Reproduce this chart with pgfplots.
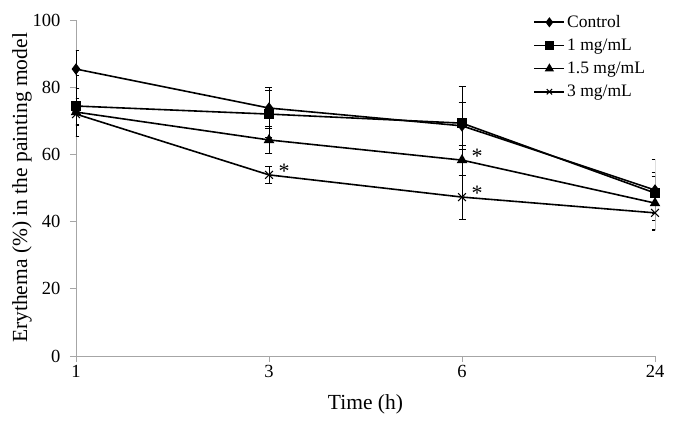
\documentclass[border=0pt]{standalone}
\usepackage{fontspec}
\setmainfont{Liberation Serif}
\usepackage{pgfplots}
\pgfplotsset{compat=1.18}
\begin{document}
\begin{tikzpicture}
\begin{axis}[
  scale only axis, width=579pt, height=336pt,
  xmin=0, xmax=3, ymin=0, ymax=100,
  xtick={0,1,2,3}, xticklabels={1,3,6,24},
  ytick={0,20,40,60,80,100},
  axis x line*=bottom, axis y line*=left,
  axis line style={gray!70, line width=0.8pt},
  every tick/.style={gray!70, line width=0.8pt},
  tick align=outside, major tick length=6pt,
  ticklabel style={font=\fontsize{18.5}{20}\selectfont},
  yticklabel style={xshift=-6pt},
  /pgf/number format/assume math mode=true,
  xlabel={Time (h)}, ylabel={Erythema (\%) in the painting model},
  label style={font=\fontsize{21.5}{24}\selectfont},
  xlabel style={yshift=-10pt}, ylabel style={yshift=-6pt},
  legend style={draw=none, fill=none, at={(rel axis cs:0.79,1.02)}, anchor=north west,
    font=\fontsize{17.5}{20}\selectfont, row sep=6pt, inner sep=0pt},
  legend cell align=left,
  legend image code/.code={\draw[#1] (0pt,0pt) -- (30pt,0pt); \draw[#1, mark repeat=1, mark size=3.8pt] plot coordinates {(15pt,0pt)};},
  error bars/error bar style={line width=0.8pt, black, solid},
  error bars/error mark options={rotate=90, mark size=3.5pt, line width=0.8pt, black},
]
\addplot[black, line width=1.6pt, mark=diamond*, mark size=4.5pt, mark options={solid, fill=black},
  error bars/.cd, y dir=both, y explicit]
  coordinates {(0,85.4) +- (0,5.7) (1,73.8) +- (0,6) (2,68.5) +- (0,7) (3,49.4) +- (0,9)};
\addlegendentry{Control}
\addplot[black, line width=1.6pt, mark=square*, mark size=4pt, mark options={solid, fill=black},
  error bars/.cd, y dir=both, y explicit]
  coordinates {(0,74.4) +- (0,9) (1,72.0) +- (0,7) (2,69.3) +- (0,11) (3,48.5) +- (0,6)};
\addlegendentry{1 mg/mL}
\addplot[black, line width=1.6pt, mark=triangle*, mark size=4.5pt, mark options={solid, fill=black},
  error bars/.cd, y dir=both, y explicit]
  coordinates {(0,72.6) +- (0,4) (1,64.3) +- (0,4) (2,58.3) +- (0,4.5) (3,45.5) +- (0,8)};
\addlegendentry{1.5 mg/mL}
\addplot[black, line width=1.6pt, mark=x, mark size=5.5pt, mark options={solid, line width=1.1pt},
  error bars/.cd, y dir=both, y explicit]
  coordinates {(0,72.0) +- (0,3) (1,53.9) +- (0,2.4) (2,47.3) +- (0,6.5) (3,42.6) +- (0,5)};
\addlegendentry{3 mg/mL}
\addplot[draw=none, mark=none, forget plot,
  nodes near coords={*},
  every node near coord/.style={anchor=west, xshift=6pt, yshift=4pt, font=\fontsize{22}{24}\selectfont, black}]
  coordinates {(1,53.9) (2,58.3) (2,47.3)};
\end{axis}
\pgfresetboundingbox
\path[use as bounding box] (-76pt,-70pt) rectangle (602pt,356pt);
\end{tikzpicture}
\end{document}
